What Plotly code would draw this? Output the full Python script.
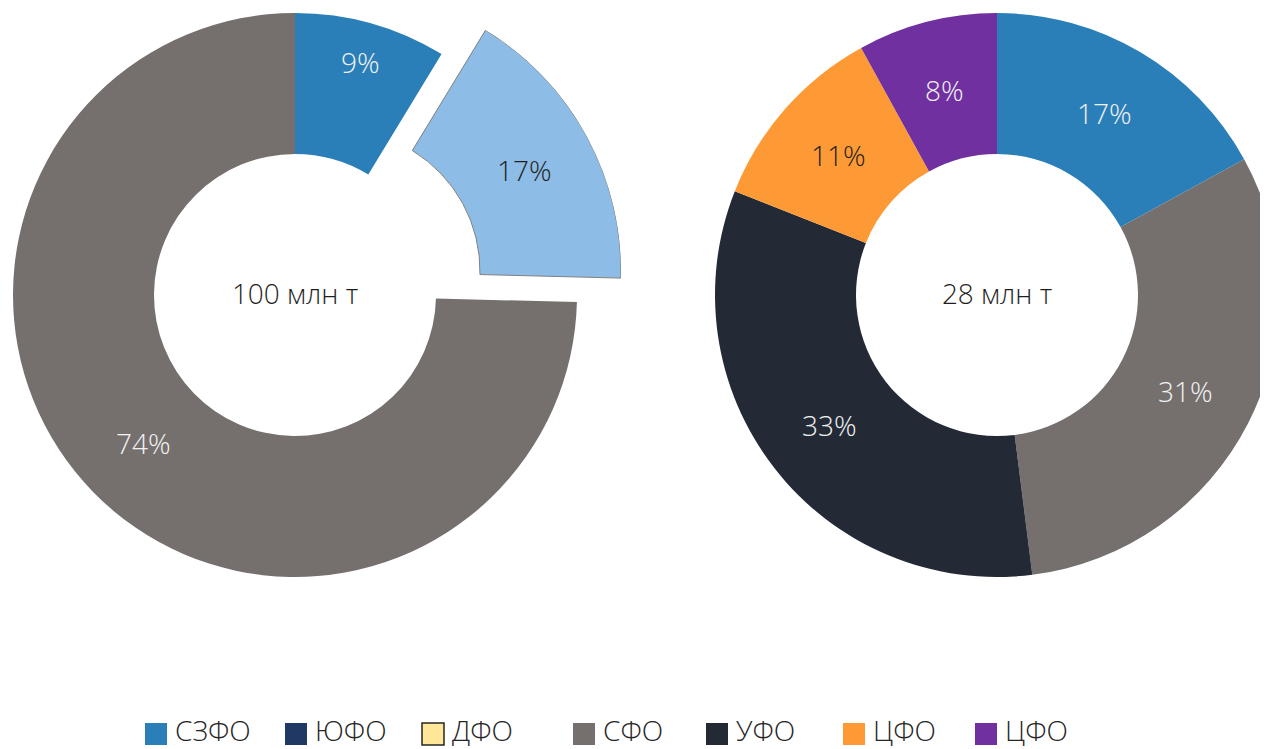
import math
import plotly.graph_objects as go

# --- data -----------------------------------------------------------------
left_labels = ["СЗФО", "СЗФО (доп.)", "СФО"]
left_values = [8.7, 16.7, 74.6]
left_text = ["9%", "17%", "74%"]
left_total = "100 млн т"
pulled_idx = 1

right_labels = ["СЗФО", "СФО", "УФО", "ЦФО", "ЦФО (2)"]
right_values = [17, 31, 33, 11, 8]
right_text = ["17%", "31%", "33%", "11%", "8%"]
right_total = "28 млн т"

legend_labels = ["СЗФО", "ЮФО", "ДФО", "СФО", "УФО", "ЦФО", "ЦФО"]

# --- styles ---------------------------------------------------------------
BLUE = "#2a7fb9"
LIGHT_BLUE = "#8dbde6"
GRAY = "#75706e"
NAVY = "#232a36"
DARK_BLUE = "#1f3864"
YELLOW = "#ffe699"
ORANGE = "#fe9a35"
PURPLE = "#7030a0"
LIGHT_TXT = "#f2f2f2"
DARK_TXT = "#1f1f1f"
TRANSPARENT = "rgba(0,0,0,0)"

left_colors = [BLUE, LIGHT_BLUE, GRAY]
left_txt_colors = [LIGHT_TXT, DARK_TXT, LIGHT_TXT]
right_colors = [BLUE, GRAY, NAVY, ORANGE, PURPLE]
right_txt_colors = [LIGHT_TXT, LIGHT_TXT, LIGHT_TXT, DARK_TXT, LIGHT_TXT]
legend_colors = [BLUE, DARK_BLUE, YELLOW, GRAY, NAVY, ORANGE, PURPLE]
legend_px = [137, 277, 414, 565, 698, 835, 967]

# the page puts the figure 8px in from the top-left corner;
# width is a bit wider than the window so the right donut runs off the edge
W, H = 1280, 741
FONT = "Open Sans"
FS = 28
R = 282
HOLE = 0.5
LEFT_C = (287, 287)
RIGHT_C = (989, 287)
PULL = (44, -24)  # offset of the exploded slice, px
LABEL_R = R * (1 + HOLE) / 2
LEFT_LABEL_R = [242, LABEL_R, LABEL_R]  # the small 9% label sits nearer the rim


def dom(cx, cy, r=R):
    # pixel centre/radius -> paper domain
    return dict(x=[(cx - r) / W, (cx + r) / W],
                y=[1 - (cy + r) / H, 1 - (cy - r) / H])


def sector_bbox(a0, a1):
    # same bounding box plotly uses for a polar sector (origin included)
    pts = [(0.0, 0.0), (math.cos(math.radians(a0)), math.sin(math.radians(a0))),
           (math.cos(math.radians(a1)), math.sin(math.radians(a1)))]
    for a in range(-360, 721, 90):
        if a0 <= a <= a1:
            pts.append((math.cos(math.radians(a)), math.sin(math.radians(a))))
    xs = [p[0] for p in pts]
    ys = [p[1] for p in pts]
    return min(xs), min(ys), max(xs), max(ys)


def mid_angles(values):
    tot = sum(values)
    out, acc = [], 0
    for v in values:
        out.append((acc + v / 2) / tot * 360)
        acc += v
    return out


def slice_labels(values, texts, colors, centre, radii, shift=None):
    anns = []
    for i, (ang, t, c, r) in enumerate(zip(mid_angles(values), texts, colors, radii)):
        cx, cy = centre
        if shift is not None and i == shift[0]:
            cx, cy = cx + shift[1][0], cy + shift[1][1]
        anns.append(dict(text=t, xref="paper", yref="paper",
                         x=(cx + r * math.sin(math.radians(ang))) / W,
                         y=1 - (cy - r * math.cos(math.radians(ang))) / H,
                         xanchor="center", yanchor="middle", showarrow=False,
                         font=dict(family=FONT, size=FS, color=c, weight=300)))
    return anns


fig = go.Figure()

# left donut; the exploded slice is left empty here and drawn below
fig.add_trace(go.Pie(
    labels=left_labels, values=left_values, textinfo="none",
    hole=HOLE, sort=False, direction="clockwise", rotation=0,
    marker=dict(colors=[c if i != pulled_idx else TRANSPARENT for i, c in enumerate(left_colors)],
                line=dict(width=0)),
    domain=dom(*LEFT_C), showlegend=False, hoverinfo="skip",
    title=dict(text=left_total, position="middle center",
               font=dict(family=FONT, size=FS, color=DARK_TXT, weight=300)),
))

# exploded slice as a polar bar in its own shifted polar sector
total = sum(left_values)
start = sum(left_values[:pulled_idx]) / total * 360
span = left_values[pulled_idx] / total * 360
mid = start + span / 2
a0, a1 = 90 - (start + span) - 1, 90 - start + 1
bx0, by0, bx1, by1 = sector_bbox(a0, a1)
pcx, pcy = LEFT_C[0] + PULL[0], LEFT_C[1] + PULL[1]
fig.add_trace(go.Barpolar(
    r=[1 - HOLE], base=[HOLE], theta=[mid], width=[span],
    marker=dict(color=LIGHT_BLUE, line=dict(width=1, color="#7f7f7f")),
    showlegend=False, hoverinfo="skip",
))
fig.update_layout(polar=dict(
    domain=dict(x=[(pcx + R * bx0) / W, (pcx + R * bx1) / W],
                y=[1 - (pcy - R * by0) / H, 1 - (pcy - R * by1) / H]),
    sector=[a0, a1], hole=0, bgcolor=TRANSPARENT,
    radialaxis=dict(range=[0, 1], visible=False),
    angularaxis=dict(rotation=90, direction="clockwise", visible=False),
))

# right donut
fig.add_trace(go.Pie(
    labels=right_labels, values=right_values, textinfo="none",
    hole=HOLE, sort=False, direction="clockwise", rotation=0,
    marker=dict(colors=right_colors, line=dict(width=0)),
    domain=dom(*RIGHT_C), showlegend=False, hoverinfo="skip",
    title=dict(text=right_total, position="middle center",
               font=dict(family=FONT, size=FS, color=DARK_TXT, weight=300)),
))

# percentage labels at the middle of each slice
annotations = slice_labels(left_values, left_text, left_txt_colors, LEFT_C,
                           LEFT_LABEL_R, shift=(pulled_idx, PULL))
annotations += slice_labels(right_values, right_text, right_txt_colors, RIGHT_C,
                            [LABEL_R] * len(right_values))

# legend drawn by hand: large square swatches
shapes = []
for name, col, px in zip(legend_labels, legend_colors, legend_px):
    shapes.append(dict(type="rect", xref="paper", yref="paper",
                       x0=px / W, x1=(px + 22) / W, y0=1 - 737 / H, y1=1 - 715 / H,
                       fillcolor=col,
                       line=dict(width=1.5 if col == YELLOW else 0, color="#262626")))
    annotations.append(dict(text=name, xref="paper", yref="paper",
                            x=(px + 30) / W, y=1 - 722 / H, xanchor="left", yanchor="middle",
                            showarrow=False, borderpad=0, borderwidth=0,
                            font=dict(family=FONT, size=FS, color="#262626", weight=300)))

fig.update_layout(
    width=W, height=H,
    margin=dict(l=0, r=0, t=0, b=0),
    paper_bgcolor="white",
    shapes=shapes,
    annotations=annotations,
)

fig.write_html("out.html")
